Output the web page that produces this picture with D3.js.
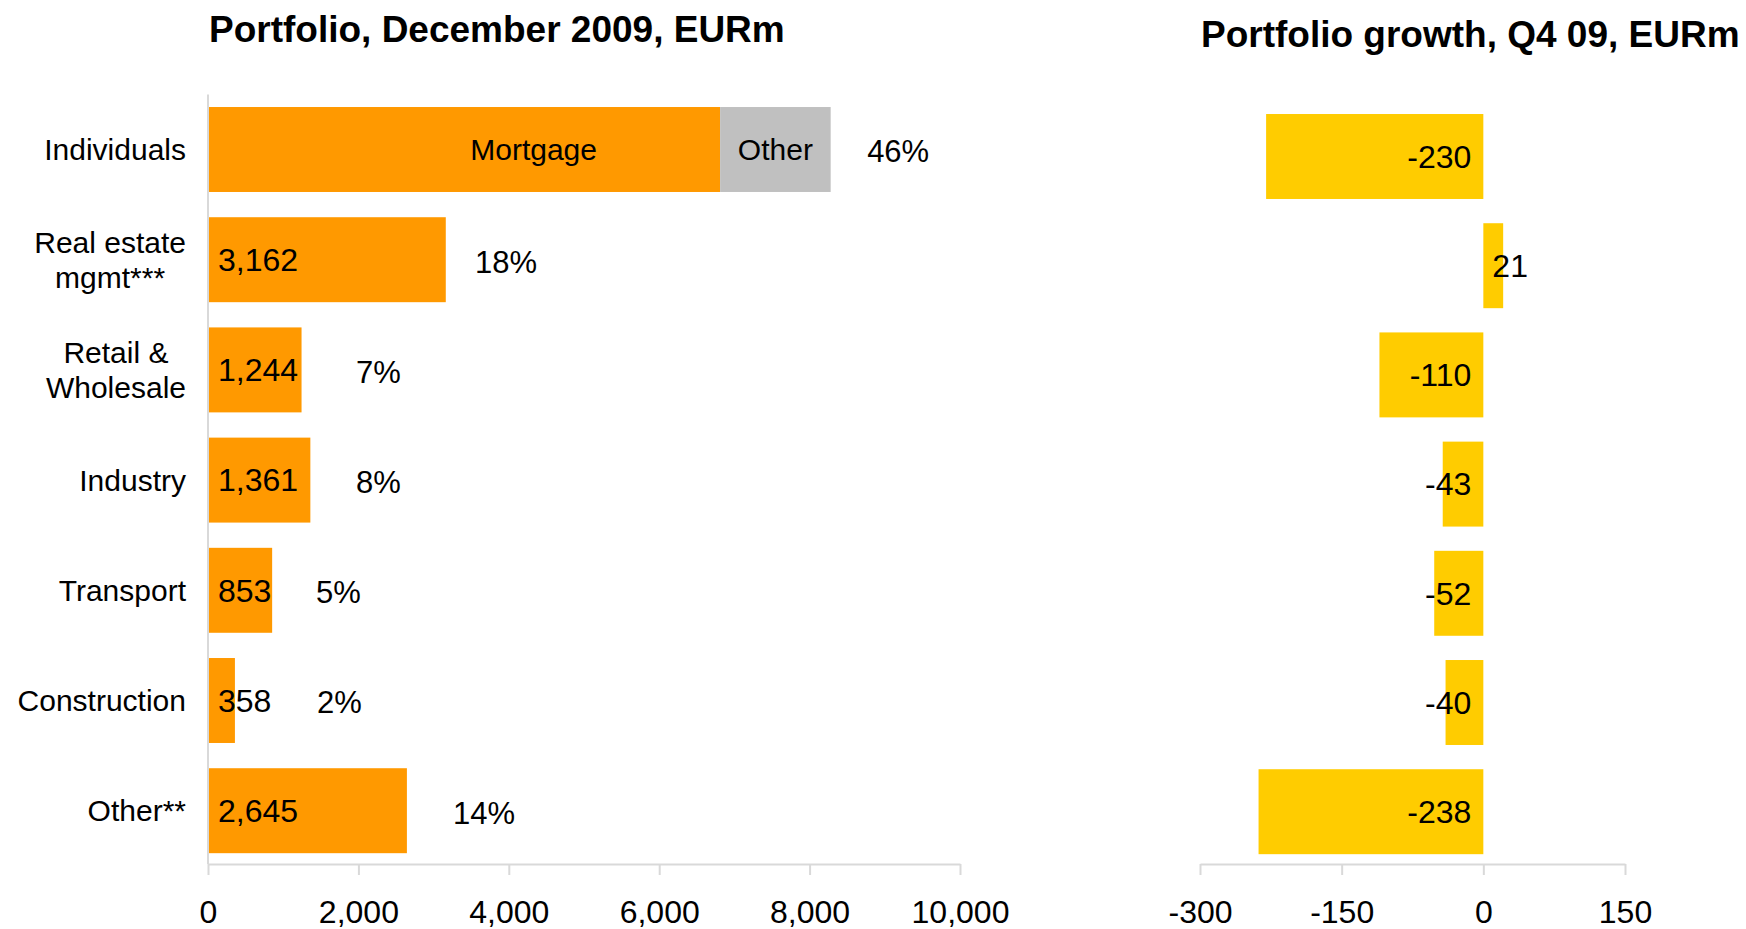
<!DOCTYPE html>
<html><head><meta charset="utf-8">
<script src="https://cdn.jsdelivr.net/npm/d3@7"></script>
<style>
html,body{margin:0;padding:0;background:#fff;}
text{font-family:"Liberation Sans",Arial,sans-serif;fill:#000;}
</style></head>
<body><svg id="c" width="1746" height="929"></svg>
<script>
// ---- data ----
const categories = ["Individuals","Real estate mgmt***","Retail & Wholesale","Industry","Transport","Construction","Other**"];
const categoryLines = [["Individuals"],["Real estate","mgmt***"],["Retail &","Wholesale"],["Industry"],["Transport"],["Construction"],["Other**"]];
const portfolioMain = [6810, 3162, 1244, 1361, 853, 358, 2645];   // Mortgage for Individuals
const portfolioOther = [1470, 0, 0, 0, 0, 0, 0];                  // "Other" part of Individuals
const valueLabels = [null, "3,162", "1,244", "1,361", "853", "358", "2,645"];
const shareLabels = ["46%","18%","7%","8%","5%","2%","14%"];
const shareLabelAt = [8765, 3550, 1968, 1968, 1436, 1449, 3258];  // invisible label series (EURm)
const mortgageLabelAt = 4330;
const growth = [-230, 21, -110, -43, -52, -40, -238];
const leftTicks = [0,2000,4000,6000,8000,10000];
const rightTicks = [-300,-150,0,150];
const titleLeft = "Portfolio, December 2009, EURm";
const titleRight = "Portfolio growth, Q4 09, EURm";

const ORANGE="#FF9900", GRAY="#C0C0C0", YELLOW="#FFCC00", AXIS="#D9D9D9";
const svg = d3.select("#c");
svg.append("rect").attr("width",1746).attr("height",929).attr("fill","#fff");

// ---- left chart ----
const xL = d3.scaleLinear().domain([0,10000]).range([208,960]);
const yL = d3.scaleBand().domain(categories).range([94.4,865.8]).paddingInner(0.229).paddingOuter(0.1145);
const gL = svg.append("g");

gL.selectAll("rect.main").data(categories).join("rect")
  .attr("x", xL(0)).attr("y", d=>yL(d))
  .attr("width",(d,i)=>xL(portfolioMain[i])-xL(0)).attr("height",yL.bandwidth()).attr("fill",ORANGE);
gL.selectAll("rect.oth").data(categories.filter((d,i)=>portfolioOther[i]>0)).join("rect")
  .attr("x", d=>{const i=categories.indexOf(d);return xL(portfolioMain[i]);})
  .attr("y", d=>yL(d))
  .attr("width", d=>{const i=categories.indexOf(d);return xL(portfolioMain[i]+portfolioOther[i])-xL(portfolioMain[i]);})
  .attr("height",yL.bandwidth()).attr("fill",GRAY);

// vertical axis line
gL.append("line").attr("x1",xL(0)).attr("x2",xL(0)).attr("y1",yL.range()[0]).attr("y2",864)
  .attr("stroke",AXIS).attr("stroke-width",2);

// x axis
const axL = gL.append("g").attr("transform","translate(0,864)")
  .call(d3.axisBottom(xL).tickValues(leftTicks).tickFormat(d3.format(",")).tickSize(11).tickSizeOuter(0).tickPadding(25));
axL.selectAll("path,line").attr("stroke",AXIS).attr("stroke-width",2);
axL.selectAll("text").attr("font-size",32).attr("font-family","Liberation Sans, Arial").attr("fill","#000");

// category labels
const catRight = 186;
categories.forEach((c,i)=>{
  const lines = categoryLines[i];
  const cy = yL(c)+yL.bandwidth()/2;
  if(lines.length===1){
    gL.append("text").attr("x",catRight).attr("y",cy).attr("dy","0.35em")
      .attr("text-anchor","end").attr("font-size",30).text(lines[0]);
  } else {
    const t = gL.append("text").attr("font-size",30).attr("text-anchor","middle");
    const sp = lines.map((l,k)=>t.append("tspan").attr("y",cy+(k-(lines.length-1)/2)*35).attr("dy","0.35em").text(l));
    const w = d3.max(sp,s=>s.node().getComputedTextLength());
    sp.forEach(s=>s.attr("x",catRight-w/2));
  }
});

// value labels
categories.forEach((c,i)=>{
  const cy = yL(c)+yL.bandwidth()/2;
  if(valueLabels[i]) gL.append("text").attr("x",xL(0)+10).attr("y",cy).attr("dy","0.35em")
    .attr("font-size",32).text(valueLabels[i]);
  gL.append("text").attr("x",xL(shareLabelAt[i])).attr("y",cy+2).attr("dy","0.35em")
    .attr("font-size",31).text(shareLabels[i]);
});
{
  const cy = yL(categories[0])+yL.bandwidth()/2;
  gL.append("text").attr("x",xL(mortgageLabelAt)).attr("y",cy).attr("dy","0.35em")
    .attr("text-anchor","middle").attr("font-size",30).text("Mortgage");
  gL.append("text").attr("x",xL(portfolioMain[0]+portfolioOther[0]/2)).attr("y",cy).attr("dy","0.35em")
    .attr("text-anchor","middle").attr("font-size",30).text("Other");
}

svg.append("text").attr("x",209).attr("y",42).attr("font-size",37).attr("font-weight","bold").text(titleLeft);

// ---- right chart ----
const xR = d3.scaleLinear().domain([-300,150]).range([1200,1625]);
const yR = d3.scaleBand().domain(categories).range([101.9,866.3]).paddingInner(0.222).paddingOuter(0.111);
const gR = svg.append("g");
gR.selectAll("rect").data(categories).join("rect")
  .attr("x",(d,i)=>xR(Math.min(0,growth[i]))).attr("y",d=>yR(d))
  .attr("width",(d,i)=>Math.abs(xR(growth[i])-xR(0))).attr("height",yR.bandwidth()).attr("fill",YELLOW);
const axR = gR.append("g").attr("transform","translate(0,864)")
  .call(d3.axisBottom(xR).tickValues(rightTicks).tickFormat(d=>String(d)).tickSize(11).tickSizeOuter(0).tickPadding(25));
axR.selectAll("path,line").attr("stroke",AXIS).attr("stroke-width",2);
axR.selectAll("text").attr("font-size",32).attr("font-family","Liberation Sans, Arial").attr("fill","#000");
categories.forEach((c,i)=>{
  const cy = yR(c)+yR.bandwidth()/2;
  const neg = growth[i]<0;
  gR.append("text").attr("x",xR(0)+(neg?-12:9)).attr("y",cy).attr("dy","0.35em")
    .attr("text-anchor",neg?"end":"start").attr("font-size",32).text(String(growth[i]));
});
svg.append("text").attr("x",1201).attr("y",47).attr("font-size",37).attr("font-weight","bold").text(titleRight);
</script></body></html>
